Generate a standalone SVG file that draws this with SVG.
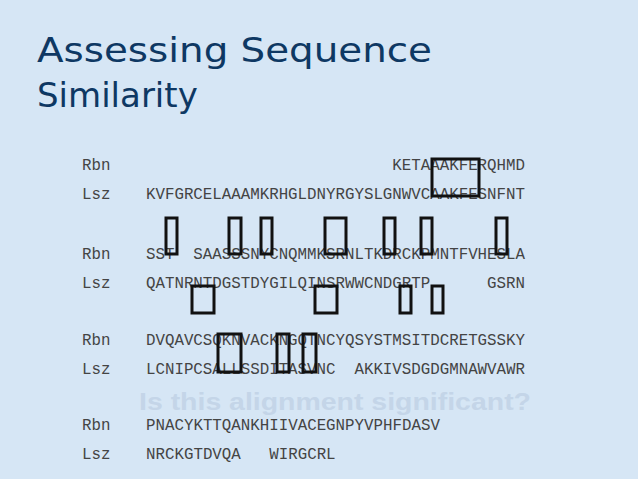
<svg xmlns="http://www.w3.org/2000/svg" width="638" height="479" viewBox="0 0 638 479">
<style>
.t{font-family:"DejaVu Sans",Verdana,sans-serif;font-size:34px;fill:#0e3863}
.s{font-family:"Liberation Mono","Courier New",monospace;font-size:15.8px;fill:#444;white-space:pre}
.b{fill:none;stroke:#111;stroke-width:3}
</style>
<rect width="638" height="479" fill="#d6e6f5"/>
<g id="title">
<text class="t" x="37" y="62" textLength="395" lengthAdjust="spacingAndGlyphs">Assessing Sequence</text>
<text class="t" x="37" y="107">Similarity</text>
</g>
<text x="335" y="410" text-anchor="middle" font-family="Liberation Sans,Arial,sans-serif" font-weight="bold" font-size="23" fill="#c4d5e8" textLength="392" lengthAdjust="spacingAndGlyphs">Is this alignment significant?</text>
<g id="labels" class="s">
<text x="82" y="170">Rbn</text><text x="82" y="199">Lsz</text>
<text x="82" y="259">Rbn</text><text x="82" y="288">Lsz</text>
<text x="82" y="345">Rbn</text><text x="82" y="374">Lsz</text>
<text x="82" y="430">Rbn</text><text x="82" y="459">Lsz</text>
</g>
<g id="sequences" class="s">
<text x="146" y="170" textLength="379" xml:space="preserve">                          KETAAAKFERQHMD</text>
<text x="146" y="199" textLength="379">KVFGRCELAAAMKRHGLDNYRGYSLGNWVCAAKFESNFNT</text>
<text x="146" y="259" textLength="379" xml:space="preserve">SST  SAASSSNYCNQMMKSRNLTKDRCKPMNTFVHESLA</text>
<text x="146" y="288" textLength="379" xml:space="preserve">QATNRNTDGSTDYGILQINSRWWCNDGRTP      GSRN</text>
<text x="146" y="345" textLength="379">DVQAVCSQKNVACKNGQTNCYQSYSTMSITDCRETGSSKY</text>
<text x="146" y="374" textLength="379" xml:space="preserve">LCNIPCSALLSSDITASVNC  AKKIVSDGDGMNAWVAWR</text>
<text x="146" y="430" xml:space="preserve">PNACYKTTQANKHIIVACEGNPYVPHFDASV</text>
<text x="146" y="459" xml:space="preserve">NRCKGTDVQA   WIRGCRL</text>
</g>
<g id="boxes">
<rect class="b" x="432" y="159" width="47" height="37"/>
<rect class="b" x="166" y="218" width="11" height="36"/>
<rect class="b" x="229" y="218" width="12" height="36"/>
<rect class="b" x="261" y="218" width="11" height="36"/>
<rect class="b" x="325" y="218" width="21" height="36"/>
<rect class="b" x="384" y="218" width="11" height="36"/>
<rect class="b" x="421" y="218" width="11" height="36"/>
<rect class="b" x="496" y="218" width="11" height="36"/>
<rect class="b" x="192" y="286" width="22" height="27"/>
<rect class="b" x="315" y="286" width="22" height="27"/>
<rect class="b" x="400" y="286" width="11" height="27"/>
<rect class="b" x="432" y="286" width="11" height="27"/>
<rect class="b" x="218" y="334" width="23" height="38"/>
<rect class="b" x="277" y="334" width="12" height="38"/>
<rect class="b" x="303" y="334" width="13" height="38"/>
</g>
</svg>
